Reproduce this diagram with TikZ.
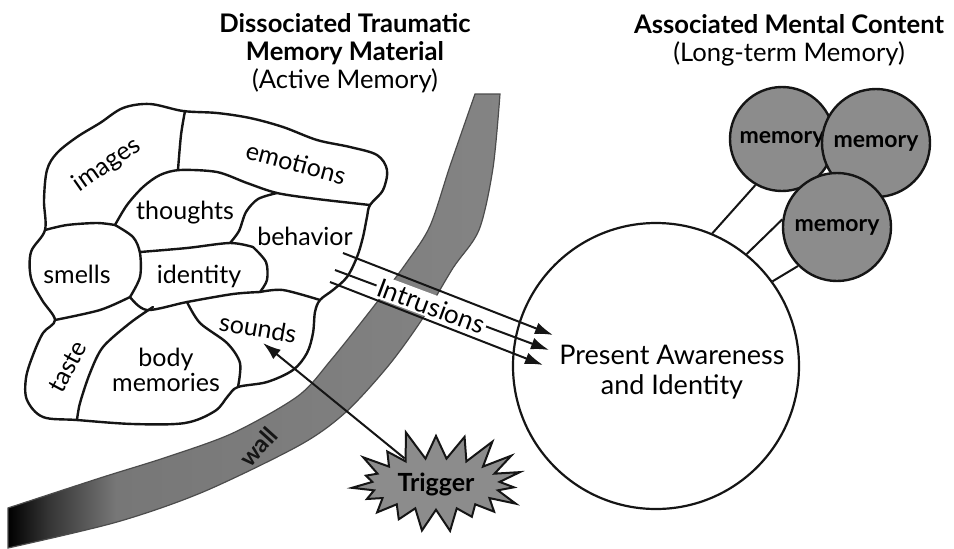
\documentclass[tikz,border=0pt]{standalone}
\usepackage{fontspec}
\setmainfont{Lato}
\usetikzlibrary{arrows.meta,positioning,calc,shapes.symbols}
\definecolor{dark}{HTML}{151515}
\definecolor{stonegray}{HTML}{8C8C8C}
\pgfdeclarehorizontalshading{wallshade}{100bp}{color(0bp)=(black); color(25bp)=(black); color(29bp)=(black!80); color(36bp)=(stonegray!85!black); color(100bp)=(stonegray)}
\tikzset{
  region/.style={draw=dark, line width=1.2pt, line join=round, line cap=round},
  lbl/.style={font=\fontsize{12.5}{13}\selectfont, inner sep=1pt},
  head/.style={align=center, font=\fontsize{12.8}{14}\selectfont},
  memory/.style={circle, draw=dark, line width=1.2pt, fill=stonegray, minimum size=54pt, inner sep=0pt, font=\bfseries\fontsize{11.5}{12}\selectfont},
  arrow/.style={-{Latex[length=9pt,width=6pt]}, line width=1pt, draw=dark},
  link/.style={line width=1pt, draw=dark}
}

\begin{document}
\begin{tikzpicture}[x=0.5pt, y=-0.5pt]
  \useasboundingbox (0,0) rectangle (954,548);
  % headings
  \node[head] (dissoc) at (345,53) {\textbf{Dissociated Traumatic}\\\textbf{Memory Material}\\(Active Memory)};
  \node[head] (assoc) at (789,40) {\textbf{Associated Mental Content}\\(Long-term Memory)};
  % the wall
  \shadedraw[shading=wallshade, draw=black!70, line width=0.6pt]
    plot[smooth] coordinates {(8,508) (100,478) (167,457) (233,433) (298,396) (331,360) (374,306) (407,262) (430,226) (450,166) (475,94)}
    -- plot[smooth] coordinates {(500,94) (493,168) (479,230) (453,268) (423,318) (389,365) (346,412) (300,445) (203,492) (117,522) (8,548)}
    -- cycle;
  \node[font=\bfseries\fontsize{12}{12}\selectfont, rotate=48, text=dark] (wall) at (258,447) {wall};
  % the memory material
  \filldraw[region, fill=white] plot[smooth cycle, tension=0.55] coordinates {
    (45,230) (44,200) (47,170) (57,153) (77,137) (100,123) (123,108) (150,104)
    (183,111) (217,113) (250,118) (283,127) (317,140) (350,147) (377,155) (387,170)
    (383,190) (370,205) (367,217) (363,237) (357,257) (347,277) (333,290) (320,300)
    (315,312) (313,333) (307,353) (293,370) (267,382) (238,387) (228,396) (215,411)
    (185,423) (133,424) (77,420) (43,417) (27,400) (26,378) (33,355) (43,333)
    (55,320) (42,300) (31,278) (31,252)};
  \draw[region] plot[smooth] coordinates {(185,111) (181,135) (178,170)};
  \draw[region] plot[smooth] coordinates {(115,225) (127,205) (143,187) (160,175) (180,170) (217,172) (247,183) (277,193) (317,199) (370,205)};
  \draw[region] plot[smooth] coordinates {(277,193) (258,199) (246,212) (239,231) (230,243)};
  \draw[region] plot[smooth] coordinates {(45,230) (67,225) (97,223) (115,225)};
  \draw[region] plot[smooth] coordinates {(115,225) (133,237) (140,253) (140,277) (130,297)};
  \draw[region] plot[smooth] coordinates {(140,252) (187,248) (230,243) (253,247)};
  \draw[region] plot[smooth] coordinates {(253,247) (266,262) (267,280) (260,292)};
  \draw[region] plot[smooth] coordinates {(260,292) (283,290) (320,300)};
  \draw[region] plot[smooth] coordinates {(130,297) (147,310) (187,302) (233,294) (260,292)};
  \draw[region] plot[smooth] coordinates {(130,297) (100,310) (55,320)};
  \draw[region] plot[smooth] coordinates {(187,302) (200,323) (227,343) (240,363) (238,387)};
  \draw[region] plot[smooth] coordinates {(153,307) (130,323) (103,347) (90,373) (80,403) (77,420)};
  \node[lbl, rotate=35] (images) at (107,165) {images};
  \node[lbl, rotate=-15] (emotions) at (296,163) {emotions};
  \node[lbl] (thoughts) at (185,213) {thoughts};
  \node[lbl] (behavior) at (305,236) {behavior};
  \node[lbl] (smells) at (77,274) {smells};
  \node[lbl] (identity) at (199,276) {identity};
  \node[lbl, rotate=-10] (sounds) at (258,328) {sounds};
  \node[lbl, rotate=62] (taste) at (68,367) {taste};
  \node[lbl, align=center, font=\fontsize{12.5}{10}\selectfont] (body) at (166,370) {body\\memories};
  % present awareness and long-term memory
  \node[circle, draw=dark, line width=1.1pt, minimum size=143pt, inner sep=0pt] (aware) at (656,366) {};
  \node[align=center, font=\fontsize{13.5}{15}\selectfont] (awaretext) at (672,372) {Present Awareness\\and Identity};
  \node[memory, minimum size=52pt] (mem1) at (782,139) {memory};
  \node[memory] (mem2) at (876,143) {memory};
  \node[memory] (mem3) at (837,227) {memory};
  \draw[link] (mem1.240) -- (aware.67);
  \draw[link] (mem3.172) -- (aware.51);
  \draw[link] (mem3.225) -- (aware.36);
  % intrusions
  \coordinate (in1s) at (343,253); \coordinate (in1e) at (553,335);
  \coordinate (in2s) at (335,270); \coordinate (in2e) at (549,350);
  \coordinate (in3s) at (330,282); \coordinate (in3e) at (543,365);
  \draw[arrow] (in1s) -- (in1e);
  \draw[arrow] (in2s) -- node[lbl, sloped, fill=white, pos=0.45, font=\fontsize{13}{13}\selectfont] (intrusions) {Intrusions} (in2e);
  \draw[arrow] (in3s) -- (in3e);
  % trigger
  \node[starburst, starburst points=19, starburst point height=15pt, random starburst=11,
        minimum width=72pt, minimum height=42pt, fill=stonegray, draw=dark, line width=1pt,
        font=\bfseries\fontsize{12.5}{14}\selectfont] (trigger) at (436,484) {Trigger};
  \coordinate (soundtip) at (263,343);
  \draw[arrow] (trigger) -- (soundtip);
\end{tikzpicture}
\end{document}
